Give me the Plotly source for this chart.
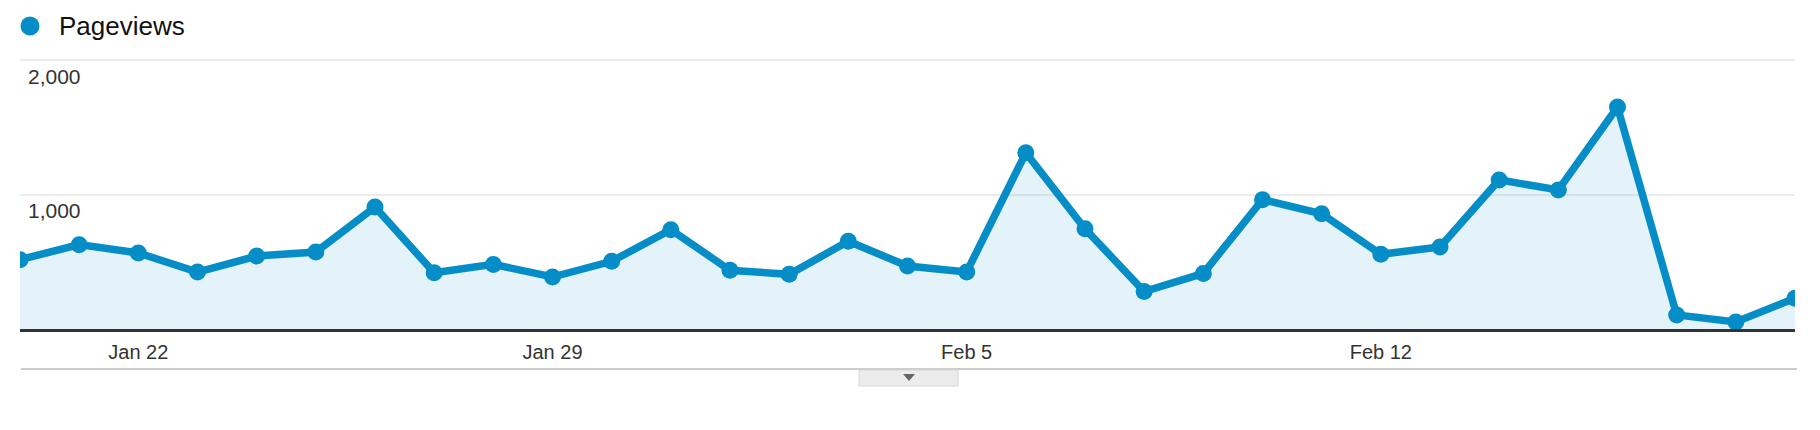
import plotly.graph_objects as go

dates = ["2014-01-20", "2014-01-21", "2014-01-22", "2014-01-23", "2014-01-24", "2014-01-25",
         "2014-01-26", "2014-01-27", "2014-01-28", "2014-01-29", "2014-01-30", "2014-01-31",
         "2014-02-01", "2014-02-02", "2014-02-03", "2014-02-04", "2014-02-05", "2014-02-06",
         "2014-02-07", "2014-02-08", "2014-02-09", "2014-02-10", "2014-02-11", "2014-02-12",
         "2014-02-13", "2014-02-14", "2014-02-15", "2014-02-16", "2014-02-17", "2014-02-18",
         "2014-02-19"]
pageviews = [516, 628, 566, 424, 543, 573, 908, 419, 481, 387, 504, 739,
             437, 407, 653, 469, 424, 1312, 746, 279, 414, 963, 858, 556,
             611, 1110, 1035, 1653, 105, 52, 229]
x_tick_vals = ["2014-01-22", "2014-01-29", "2014-02-05", "2014-02-12"]
x_tick_text = ["Jan 22", "Jan 29", "Feb 5", "Feb 12"]
y_tick_vals = [1000, 2000]
y_tick_text = ["1,000", "2,000"]
series_name = "Pageviews"

BLUE = "#058dc7"
FONT = "Liberation Sans, Arial, Helvetica, sans-serif"

fig = go.Figure()
fig.add_trace(go.Scatter(
    x=dates, y=pageviews, name=series_name, mode="lines+markers",
    line=dict(color=BLUE, width=7.5),
    marker=dict(color=BLUE, size=17),
    fill="tozeroy", fillcolor="rgba(5,141,199,0.11)",
    showlegend=False,
))

W, H = 1820, 430
ml, mr, mt, mb = 20, 25, 59, 101
pw, ph = W - ml - mr, H - mt - mb

def px_x(px):
    return (px - ml) / pw

def px_y(py):
    return (H - mb - py) / ph

fig.update_layout(
    width=W, height=H,
    margin=dict(l=ml, r=mr, t=mt, b=mb, pad=0),
    paper_bgcolor="white", plot_bgcolor="white",
    font=dict(family=FONT, color="#333333"),
    xaxis=dict(
        type="date", range=[dates[0], dates[-1]],
        tickvals=x_tick_vals, ticktext=x_tick_text,
        tickfont=dict(size=20, color="#333333"),
        ticks="outside", ticklen=3, tickcolor="rgba(0,0,0,0)",
        showgrid=False, zeroline=False,
        showline=True, linecolor="#333333", linewidth=3,
        fixedrange=True,
    ),
    yaxis=dict(
        range=[0, 2010], tickvals=y_tick_vals,
        showticklabels=False, ticks="",
        showgrid=True, gridcolor="#ebebeb", gridwidth=2,
        zeroline=False, showline=False, fixedrange=True,
    ),
)

# y tick labels drawn inside the plot below their gridlines
for v, t in zip(y_tick_vals, y_tick_text):
    fig.add_annotation(x=px_x(26), xref="paper", y=v, yref="y", text=t,
                       showarrow=False, xanchor="left", yanchor="middle", yshift=-16,
                       font=dict(size=21, color="#333333", family=FONT))

# legend: dot + label
fig.add_shape(type="circle", xref="paper", yref="paper",
              xsizemode="pixel", ysizemode="pixel",
              xanchor=px_x(30), yanchor=px_y(26),
              x0=-9.5, x1=9.5, y0=-9.5, y1=9.5,
              fillcolor=BLUE, line=dict(width=0))
fig.add_annotation(x=px_x(57), xref="paper", y=px_y(26), yref="paper", text=series_name,
                   showarrow=False, xanchor="left", yanchor="middle",
                   font=dict(size=26, color="#111111", family=FONT))

# bottom separator line and collapse tab
fig.add_shape(type="line", xref="paper", yref="paper",
              x0=px_x(21), x1=px_x(1797), y0=px_y(369), y1=px_y(369),
              line=dict(color="#cccccc", width=2))
fig.add_shape(type="rect", xref="paper", yref="paper",
              x0=px_x(859), x1=px_x(958), y0=px_y(370), y1=px_y(386),
              fillcolor="#ececec", line=dict(color="#d6d6d6", width=1))
tx, ty = px_x(909), px_y(374)
dx, dy = 6 / pw, 7 / ph
fig.add_shape(type="path", xref="paper", yref="paper",
              path=f"M {tx-dx},{ty} L {tx+dx},{ty} L {tx},{ty-dy} Z",
              fillcolor="#666666", line=dict(width=0))

fig.write_html("out.html", config={"displayModeBar": False},
               post_script="document.body.style.margin='0px';")
